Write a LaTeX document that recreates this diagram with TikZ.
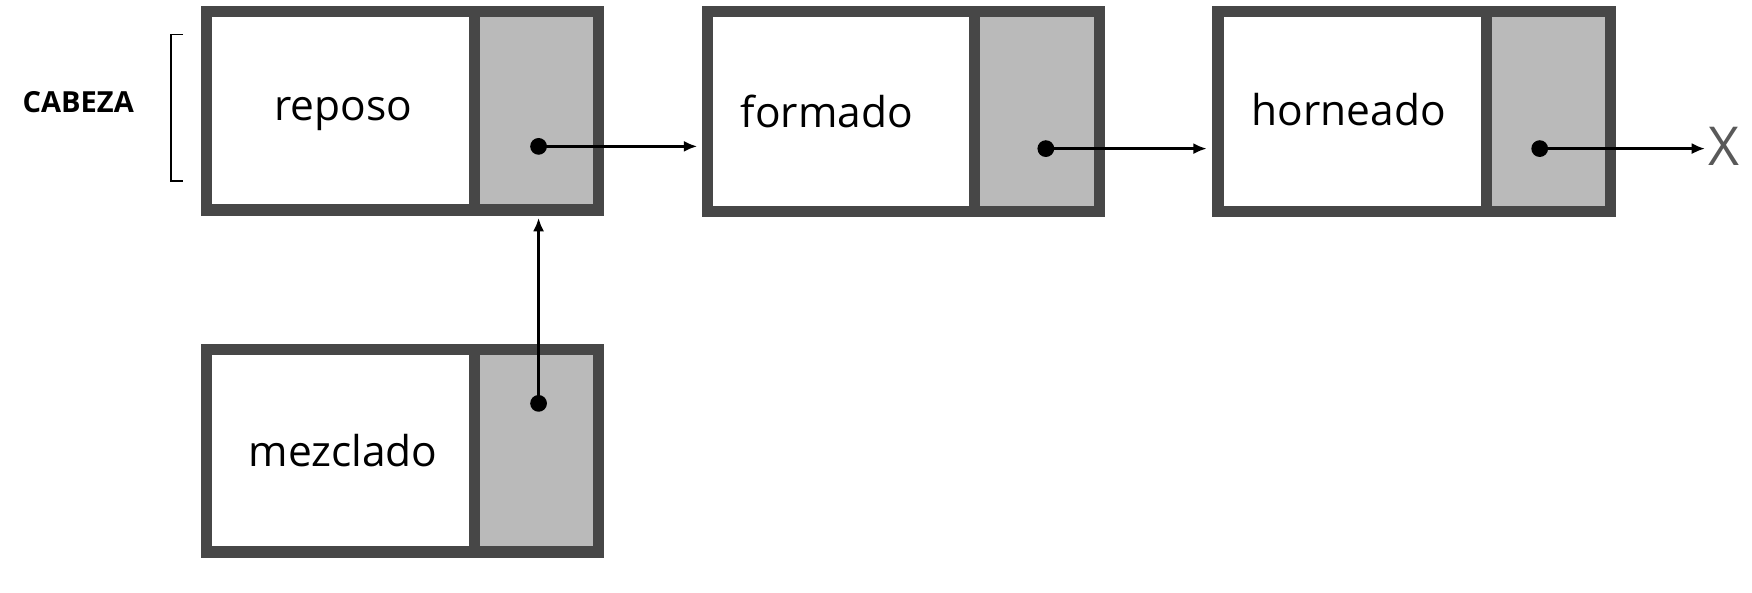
\documentclass[tikz,border=0pt]{standalone}
\usepackage{fontspec}
\setmainfont{Open Sans}
\usetikzlibrary{arrows.meta}
\tikzset{every picture/.style={line width=0.75pt}}
\tikzset{
  cell/.style={draw=black!72, line width=10pt, fill=white},
  ptr/.style={draw=black!72, line width=10pt, fill=black!27},
  link/.style={line width=2.5pt, -{Latex[length=12pt,width=10pt]}},
  dot/.style={circle, fill=black, inner sep=0pt, minimum size=15pt},
  lbl/.style={font=\fontsize{38}{40}\selectfont}
}
\begin{document}
\begin{tikzpicture}[x=1pt,y=1pt,yscale=-1,xscale=1]
\useasboundingbox (0,0) rectangle (1568,530);

% Boxes
\draw [cell] (185,10) rectangle (425,188);
\draw [ptr] (425,10) rectangle (536,188);
\draw [cell] (633,10) rectangle (872,189);
\draw [ptr] (872,10) rectangle (984,189);
\draw [cell] (1090,10) rectangle (1330,189);
\draw [ptr] (1330,10) rectangle (1441,189);
\draw [cell] (185,313) rectangle (425,494);
\draw [ptr] (425,313) rectangle (536,494);

% Text Node
\node (reposo) [lbl] at (307,102) {reposo};
\node (formado) [lbl] at (740,100) {formado};
\node (horneado) [lbl] at (1207,98) {horneado};
\node (mezclado) [lbl] at (307,403) {mezclado};
\node (cabeza) [font=\fontsize{26}{28}\selectfont\bfseries] at (70,91) {CABEZA};
\node (nulo) [font=\fontsize{48}{50}\selectfont, text=black!65] at (1543,131) {X};

% Dots
\node (p1) [dot] at (482,131) {};
\node (p2) [dot] at (936,133) {};
\node (p3) [dot] at (1378,133) {};
\node (p4) [dot] at (482,361) {};
\coordinate (in2) at (624,131);
\coordinate (in3) at (1080,133);
\coordinate (in4) at (1526,133);
\coordinate (in1) at (482,195);

% Links
\draw [link] (p1.center) -- (in2);
\draw [link] (p2.center) -- (in3);
\draw [link] (p3.center) -- (in4);
\draw [link] (p4.center) -- (in1);

% Bracket
\draw [line width=1.2pt] (164,31) -- (153,31) -- (153,162) -- (164,162);
\end{tikzpicture}
\end{document}
